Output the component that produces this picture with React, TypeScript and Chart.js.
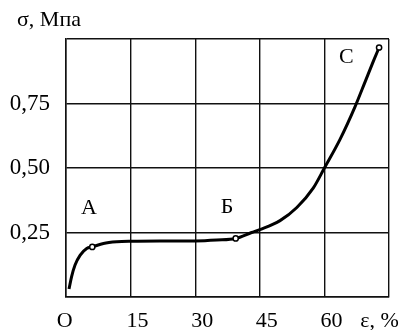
import React, { useEffect, useRef } from "react";
import { Chart, registerables } from "chart.js";

Chart.register(...registerables);

// ε, % (strain)
const strain = [0.7, 1.3, 2.1, 3.3, 4.8, 6.1, 8.7, 11.8, 15.3, 22, 30, 35, 39.4, 43.1, 45, 49.7, 53.6, 57.4, 60, 63.6, 67.1, 69.4, 71.4, 72.7];
// σ, MPa (stress)
const stress = [0.031, 0.079, 0.124, 0.162, 0.188, 0.194, 0.2075, 0.214, 0.216, 0.217, 0.2175, 0.221, 0.227, 0.25, 0.261, 0.296, 0.347, 0.422, 0.5, 0.61, 0.737, 0.832, 0.915, 0.967];
const markedPoints = [5, 12, 23];

const xTickValues = [0, 15, 30, 45, 60, 75];
const xTickLabels = ["О", "15", "30", "45", "60", "ε, %"];
const yTickValues = [0, 0.25, 0.5, 0.75, 1];
const yTickLabels = ["", "0,25", "0,50", "0,75", ""];
const yTitle = "σ, Mпа";

const pointNames = ["А", "Б", "С"];
const pointNameX = [5.3, 37.4, 65.1];
const pointNameY = [0.344, 0.348, 0.931];

const FONT = "'Liberation Serif', 'Times New Roman', serif";

const pointNamesPlugin = {
  id: "pointNames",
  afterDatasetsDraw(chart: any) {
    const { ctx, scales } = chart;
    ctx.save();
    ctx.font = `22px ${FONT}`;
    ctx.fillStyle = "#000";
    ctx.textAlign = "center";
    ctx.textBaseline = "middle";
    pointNames.forEach((name, i) => {
      ctx.fillText(name, scales.x.getPixelForValue(pointNameX[i]), scales.y.getPixelForValue(pointNameY[i]));
    });
    ctx.restore();
  },
};

export default function App() {
  const ref = useRef<HTMLCanvasElement | null>(null);
  useEffect(() => {
    if (!ref.current) return;
    const data = strain.map((x, i) => ({ x, y: stress[i] }));
    const chart = new Chart(ref.current, {
      type: "line",
      data: {
        datasets: [
          {
            data,
            borderColor: "#000",
            borderWidth: 3,
            cubicInterpolationMode: "monotone",
            pointRadius: data.map((_, i) => (markedPoints.includes(i) ? 2.6 : 0)),
            pointBackgroundColor: "#fff",
            pointBorderColor: "#000",
            pointBorderWidth: 1.5,
            pointHoverRadius: 0,
          },
        ],
      },
      options: {
        animation: false,
        responsive: true,
        maintainAspectRatio: false,
        layout: { padding: { top: 0, left: 6, right: 15, bottom: 0 } },
        plugins: {
          legend: { display: false },
          tooltip: { enabled: false },
          title: {
            display: true,
            text: "  " + yTitle,
            align: "start",
            color: "#000",
            font: { family: FONT, size: 22, weight: "normal" },
            padding: { top: 7, bottom: 5.6 },
          },
        },
        scales: {
          x: {
            type: "linear",
            min: 0,
            max: 75,
            afterFit: (s: any) => {
              s.height = 33;
              s.paddingLeft = 0;
              s.paddingRight = 0;
            },
            ticks: {
              stepSize: 15,
              autoSkip: false,
              maxRotation: 0,
              minRotation: 0,
              padding: 11,
              labelOffset: 7,
              color: "#000",
              font: { family: FONT, size: 22 },
              callback: (v: any) => {
                const i = xTickValues.indexOf(Number(v));
                if (i < 0) return "";
                const label = xTickLabels[i];
                if (i === 0) return label + "   ";
                if (i === xTickValues.length - 1) return label + "      ";
                return label;
              },
            },
            grid: { color: "#111", lineWidth: 1.4, drawTicks: false },
            border: { color: "#111", width: 1.5 },
          },
          y: {
            type: "linear",
            min: 0,
            max: 1,
            afterFit: (s: any) => {
              s.width = 60;
              s.paddingTop = 0;
              s.paddingBottom = 0;
            },
            ticks: {
              stepSize: 0.25,
              padding: 16,
              color: "#000",
              font: { family: FONT, size: 23 },
              callback: (v: any) => {
                const i = yTickValues.findIndex((t) => Math.abs(t - Number(v)) < 1e-6);
                return i < 0 ? "" : yTickLabels[i];
              },
            },
            grid: { color: "#111", lineWidth: 1.4, drawTicks: false },
            border: { color: "#111", width: 1.5 },
          },
        },
      },
      plugins: [pointNamesPlugin],
    });
    return () => chart.destroy();
  }, []);

  return (
    <div style={{ position: "absolute", left: 0, top: 0, width: 404, height: 330, background: "#fff" }}>
      <canvas ref={ref} />
    </div>
  );
}
